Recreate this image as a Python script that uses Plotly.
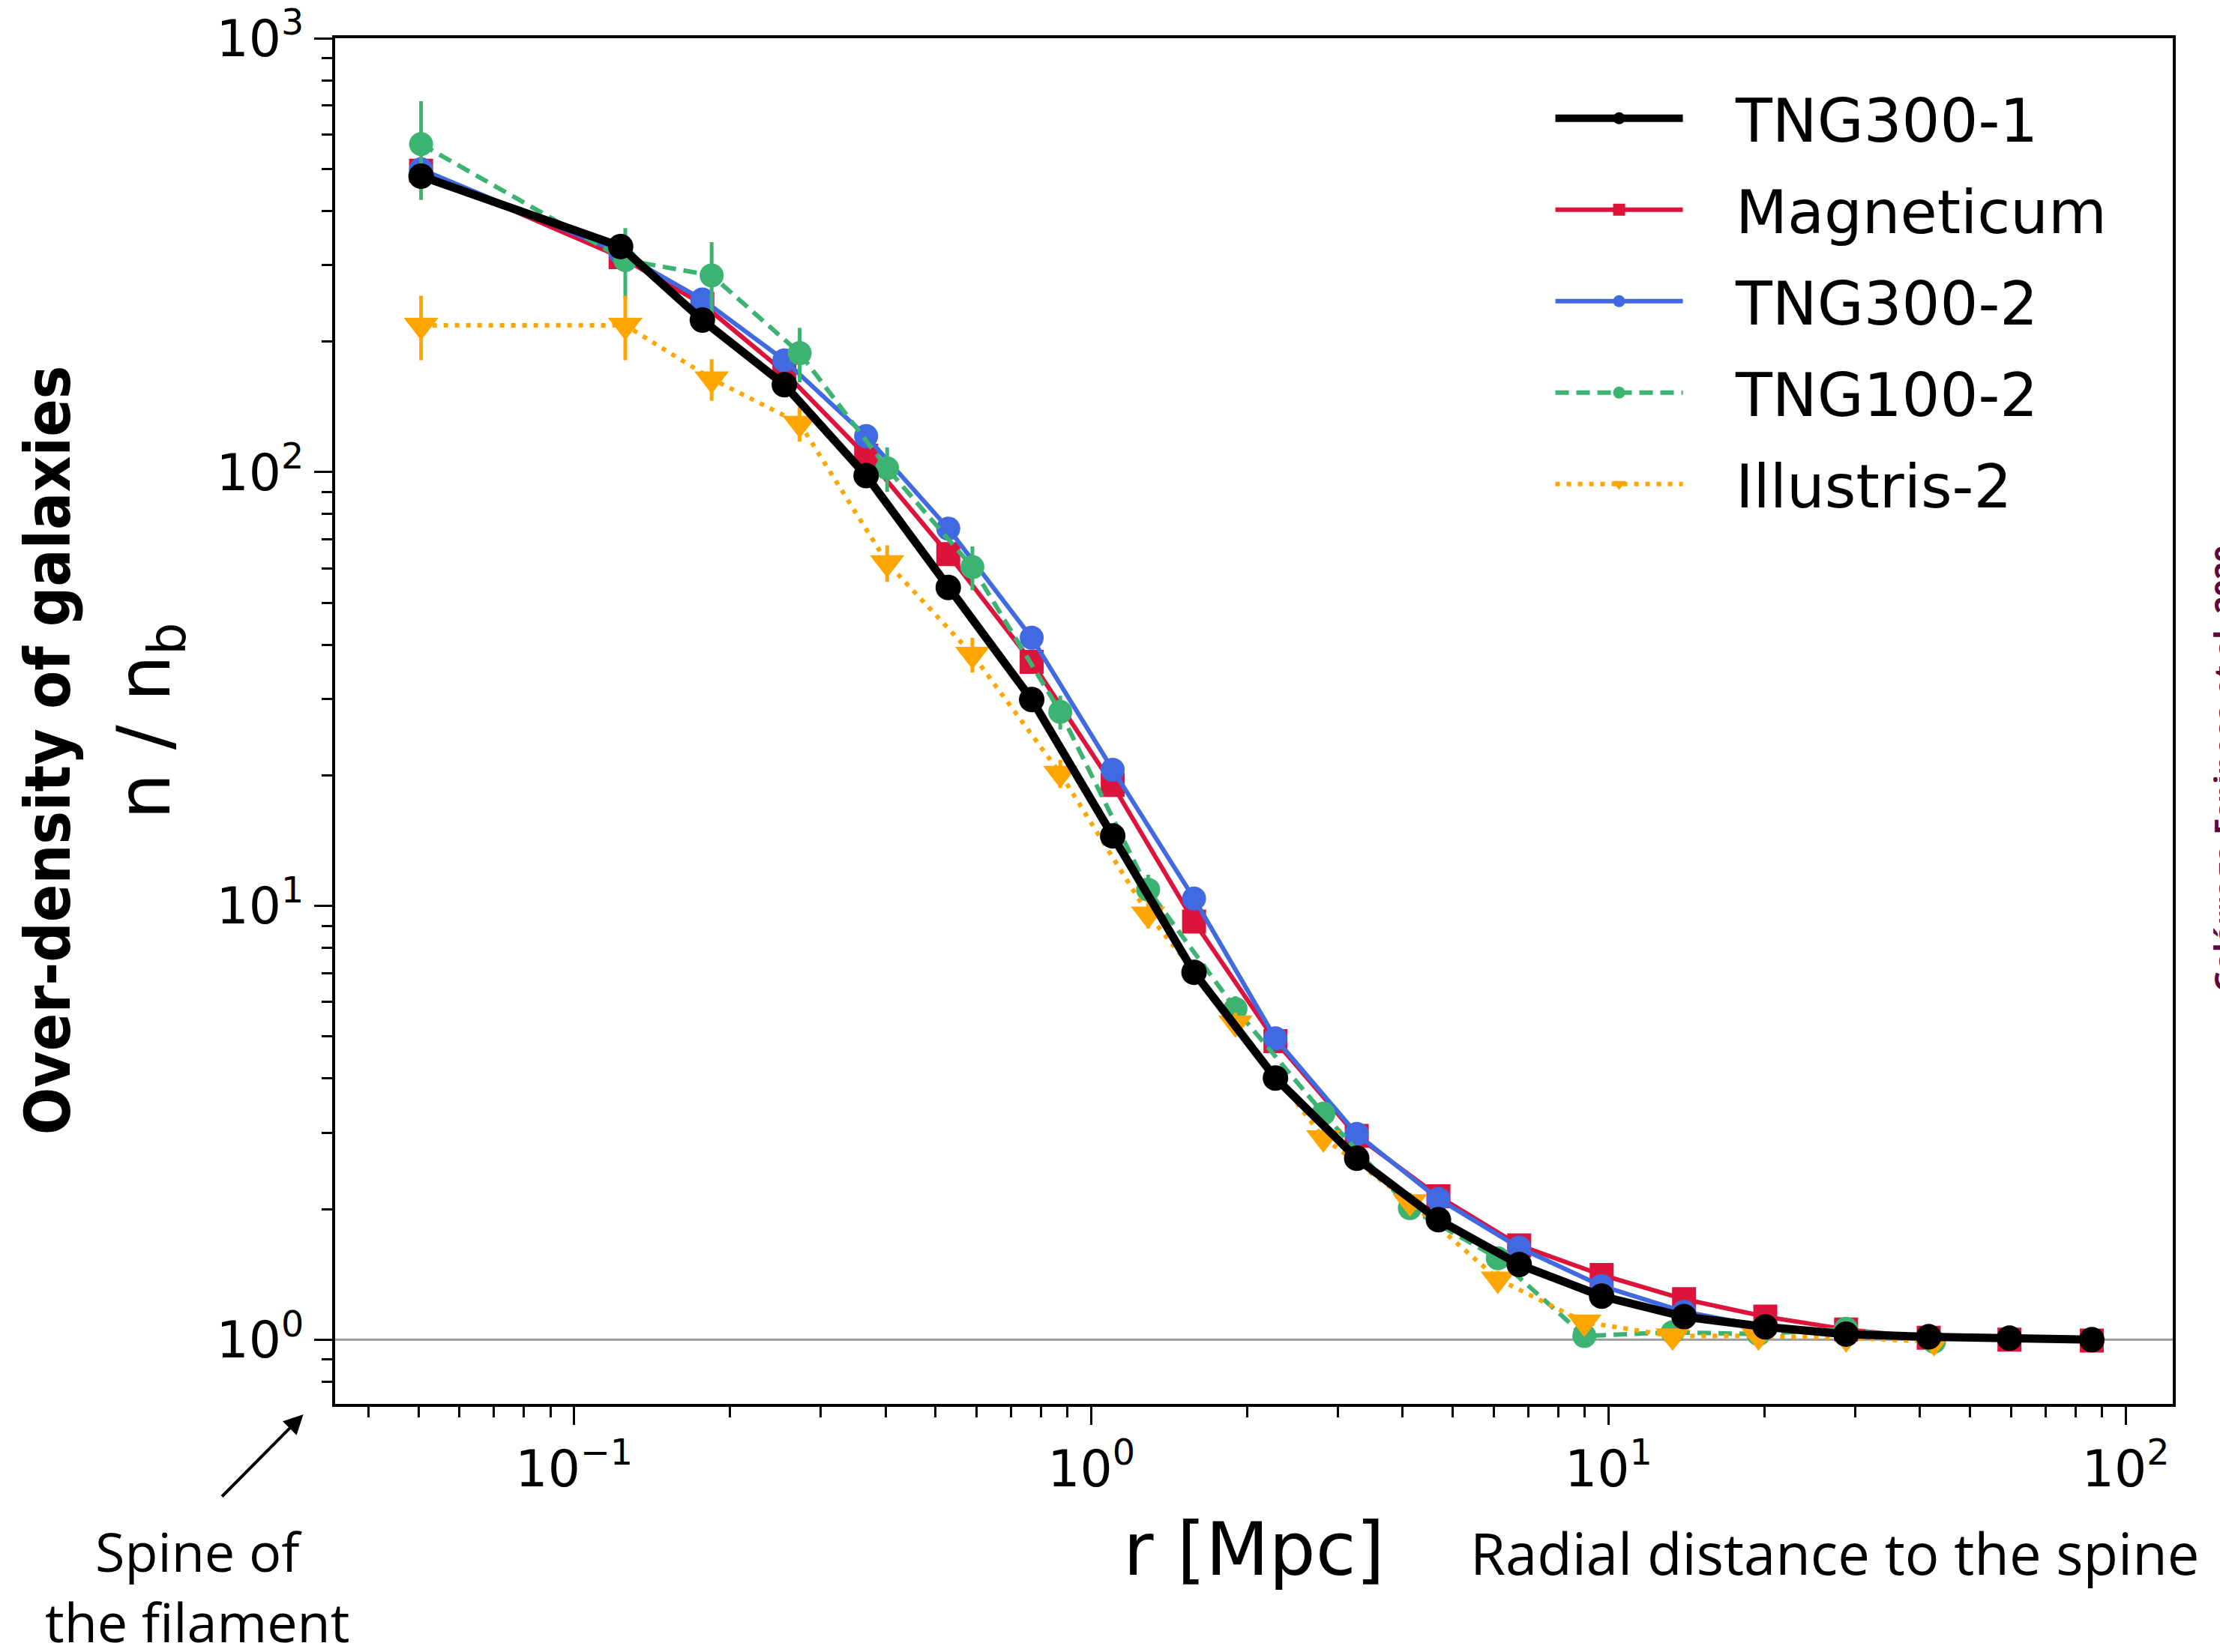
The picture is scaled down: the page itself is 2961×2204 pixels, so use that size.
import plotly.graph_objects as go

# ---------------- data ----------------
r_tng300 = [0.0506, 0.123, 0.177, 0.255, 0.367, 0.529, 0.767, 1.10, 1.58, 2.27,
            3.26, 4.69, 6.72, 9.70, 14.0, 20.1, 28.8, 41.6, 59.6, 86.0]
r_tng100 = [0.0506, 0.1256, 0.1845, 0.273, 0.403, 0.589, 0.871, 1.288, 1.90, 2.81,
            4.13, 6.11, 8.98, 13.3, 19.5, 28.8, 42.6]

tng300_1 = [481, 331, 224, 159, 98.1, 54.2, 29.9, 14.5, 7.03, 4.01,
            2.62, 1.89, 1.49, 1.26, 1.13, 1.07, 1.03, 1.015, 1.008, 1.00]
tng300_1_err = [25, 12, 7, 4, 2, 1, 0.5, 0.25, 0.1, 0.05,
                0.03, 0.02, 0.015, 0.01, 0.01, 0.01, 0.01, 0.01, 0.01, 0.01]

magneticum = [495, 313, 244, 170, 109, 64.7, 36.5, 19.0, 9.2, 4.88,
              2.95, 2.14, 1.65, 1.41, 1.24, 1.13, 1.056, 1.01, 1.0, 0.995]
magneticum_err = [20, 10, 6, 3, 1.5, 0.8, 0.4, 0.2, 0.08, 0.04,
                  0.02, 0.015, 0.01, 0.01, 0.01, 0.01, 0.01, 0.01, 0.01, 0.01]

tng300_2 = [499, 320, 250, 181, 121, 74.1, 41.5, 20.6, 10.4, 4.95,
            2.98, 2.11, 1.63, 1.33, 1.16, 1.07, 1.04, 1.02, 1.01, 1.00]
tng300_2_err = [30, 15, 8, 4, 2, 1, 0.5, 0.25, 0.1, 0.05,
                0.03, 0.02, 0.015, 0.01, 0.01, 0.01, 0.01, 0.01, 0.01, 0.01]

tng100_2 = [570, 308, 284, 188, 102, 60.4, 28.0, 10.9, 5.79, 3.32,
            2.01, 1.54, 1.02, 1.04, 1.03, 1.06, 0.99]
tng100_2_err = [146, 57, 55, 27, 12, 7, 2.5, 0.9, 0.4, 0.2,
                0.1, 0.08, 0.05, 0.04, 0.03, 0.03, 0.02]

illustris_2 = [218, 218, 164, 129.5, 61.8, 38.0, 20.2, 9.57, 5.37, 2.92,
               2.08, 1.38, 1.098, 1.02, 1.02, 1.01, 0.99]
illustris_2_err = [37, 37, 18, 12, 6, 3.5, 1.5, 0.7, 0.3, 0.15,
                   0.1, 0.06, 0.04, 0.03, 0.03, 0.02, 0.02]

x_tickvals = [0.1, 1, 10, 100]
x_ticktext = ["10<sup>\u22121</sup>", "10<sup>0</sup>", "10<sup>1</sup>", "10<sup>2</sup>"]
y_tickvals = [1, 10, 100, 1000]
y_ticktext = ["10<sup>0</sup>", "10<sup>1</sup>", "10<sup>2</sup>", "10<sup>3</sup>"]
minor_x = [d * 10.0 ** e for e in (-2, -1, 0, 1) for d in range(2, 10)]
minor_y = [d * 10.0 ** e for e in (-1, 0, 1, 2) for d in range(2, 10)]

# ---------------- figure ----------------
W, H = 2961, 2204
FONT = "DejaVu Sans"
GAP = "\u2002\u00a0"   # gap between legend symbol and label
fig = go.Figure()


def add(name, x, y, err, color, symbol, msize, lw, dash, rank):
    fig.add_trace(go.Scatter(
        x=x, y=y, name=GAP + name, mode="lines+markers",
        line=dict(color=color, width=lw, dash=dash),
        marker=dict(color=color, symbol=symbol, size=msize, line=dict(width=0)),
        error_y=dict(type="data", array=err, visible=True, color=color,
                     thickness=5, width=0),
        legendrank=rank, legendgroup=name,
    ))


add("Magneticum", r_tng300, magneticum, magneticum_err, "#DC143C", "square", 32, 6, "solid", 2)
add("TNG300-2", r_tng300, tng300_2, tng300_2_err, "#4169E1", "circle", 32, 6, "solid", 3)
add("TNG100-2", r_tng100, tng100_2, tng100_2_err, "#3CB371", "circle", 32, 6, "18px,10px", 4)
add("Illustris-2", r_tng100, illustris_2, illustris_2_err, "#FFA500", "triangle-down", 40, 6, "6px,9px", 5)
add("TNG300-1", r_tng300, tng300_1, tng300_1_err, "black", "circle", 34, 11, "solid", 1)

axis_common = dict(
    type="log", showgrid=False, zeroline=False,
    showline=True, linewidth=4, linecolor="black", mirror=True,
    ticks="outside", ticklen=24, tickwidth=3, tickcolor="black",
    tickfont=dict(family=FONT, size=68, color="black"),
    tickmode="array",
)

fig.update_xaxes(
    **axis_common,
    range=[-1.462, 2.091],
    tickvals=x_tickvals, ticktext=x_ticktext,
    minor=dict(tickmode="array", tickvals=minor_x, ticks="outside", ticklen=14,
               tickwidth=3, tickcolor="black", showgrid=False),
    title=dict(text="r [Mpc]", font=dict(family=FONT, size=98, color="black"), standoff=36),
)
fig.update_yaxes(
    **axis_common,
    range=[-0.148, 3.0],
    tickvals=y_tickvals, ticktext=y_ticktext,
    minor=dict(tickmode="array", tickvals=minor_y, ticks="outside", ticklen=14,
               tickwidth=3, tickcolor="black", showgrid=False),
    title=dict(text="n / n<sub>b</sub>", font=dict(family=FONT, size=98, color="black"), standoff=30),
)

# reference line at n/nb = 1
fig.add_shape(type="line", xref="paper", x0=0, x1=1, yref="y", y0=1, y1=1,
              line=dict(color="#9a9a9a", width=3), layer="below")

side_font = "Open Sans"
fig.add_annotation(text="<b>Over-density of galaxies</b>", textangle=-90,
                   xref="paper", yref="paper", x=-0.1557, y=0.4786,
                   xanchor="center", yanchor="middle", showarrow=False,
                   font=dict(family="Liberation Sans Narrow, DejaVu Sans Condensed, Arial Narrow, sans-serif",
                             size=83, color="black"))
fig.add_annotation(text="Radial distance to the spine",
                   xref="paper", yref="paper", x=0.8162, y=-0.1092,
                   xanchor="center", yanchor="middle", showarrow=False,
                   font=dict(family=side_font, size=76, color="black"))
fig.add_annotation(text="Spine of<br>the filament",
                   xref="paper", yref="paper", x=-0.0749, y=-0.1335,
                   xanchor="center", yanchor="middle", showarrow=False, align="center",
                   font=dict(family=side_font, size=72, color="black"))
fig.add_annotation(text="", xref="paper", yref="paper", x=-0.0173, y=-0.0077,
                   ax=-110, ay=111, axref="pixel", ayref="pixel",
                   showarrow=True, arrowhead=2, arrowsize=1.3, arrowwidth=4,
                   arrowcolor="black")
fig.add_annotation(text="<b>Galárraga-Espinosa et al. 2020</b>", textangle=-90,
                   xref="paper", yref="paper", x=1.0158, y=0.4654,
                   xanchor="left", yanchor="middle", showarrow=False,
                   font=dict(family=side_font, size=40, color="#5a0a3c"))

fig.update_layout(
    width=W, height=H,
    margin=dict(l=447, r=63, t=51, b=331, pad=0, autoexpand=False),
    paper_bgcolor="white", plot_bgcolor="white",
    font=dict(family=FONT, color="black"),
    showlegend=True,
    legend=dict(x=0.662, y=0.9735, xanchor="left", yanchor="top",
                bgcolor="rgba(0,0,0,0)", borderwidth=0,
                font=dict(family=FONT, size=80, color="black"),
                itemwidth=170, tracegroupgap=15),
)

fig.write_html("out.html")
